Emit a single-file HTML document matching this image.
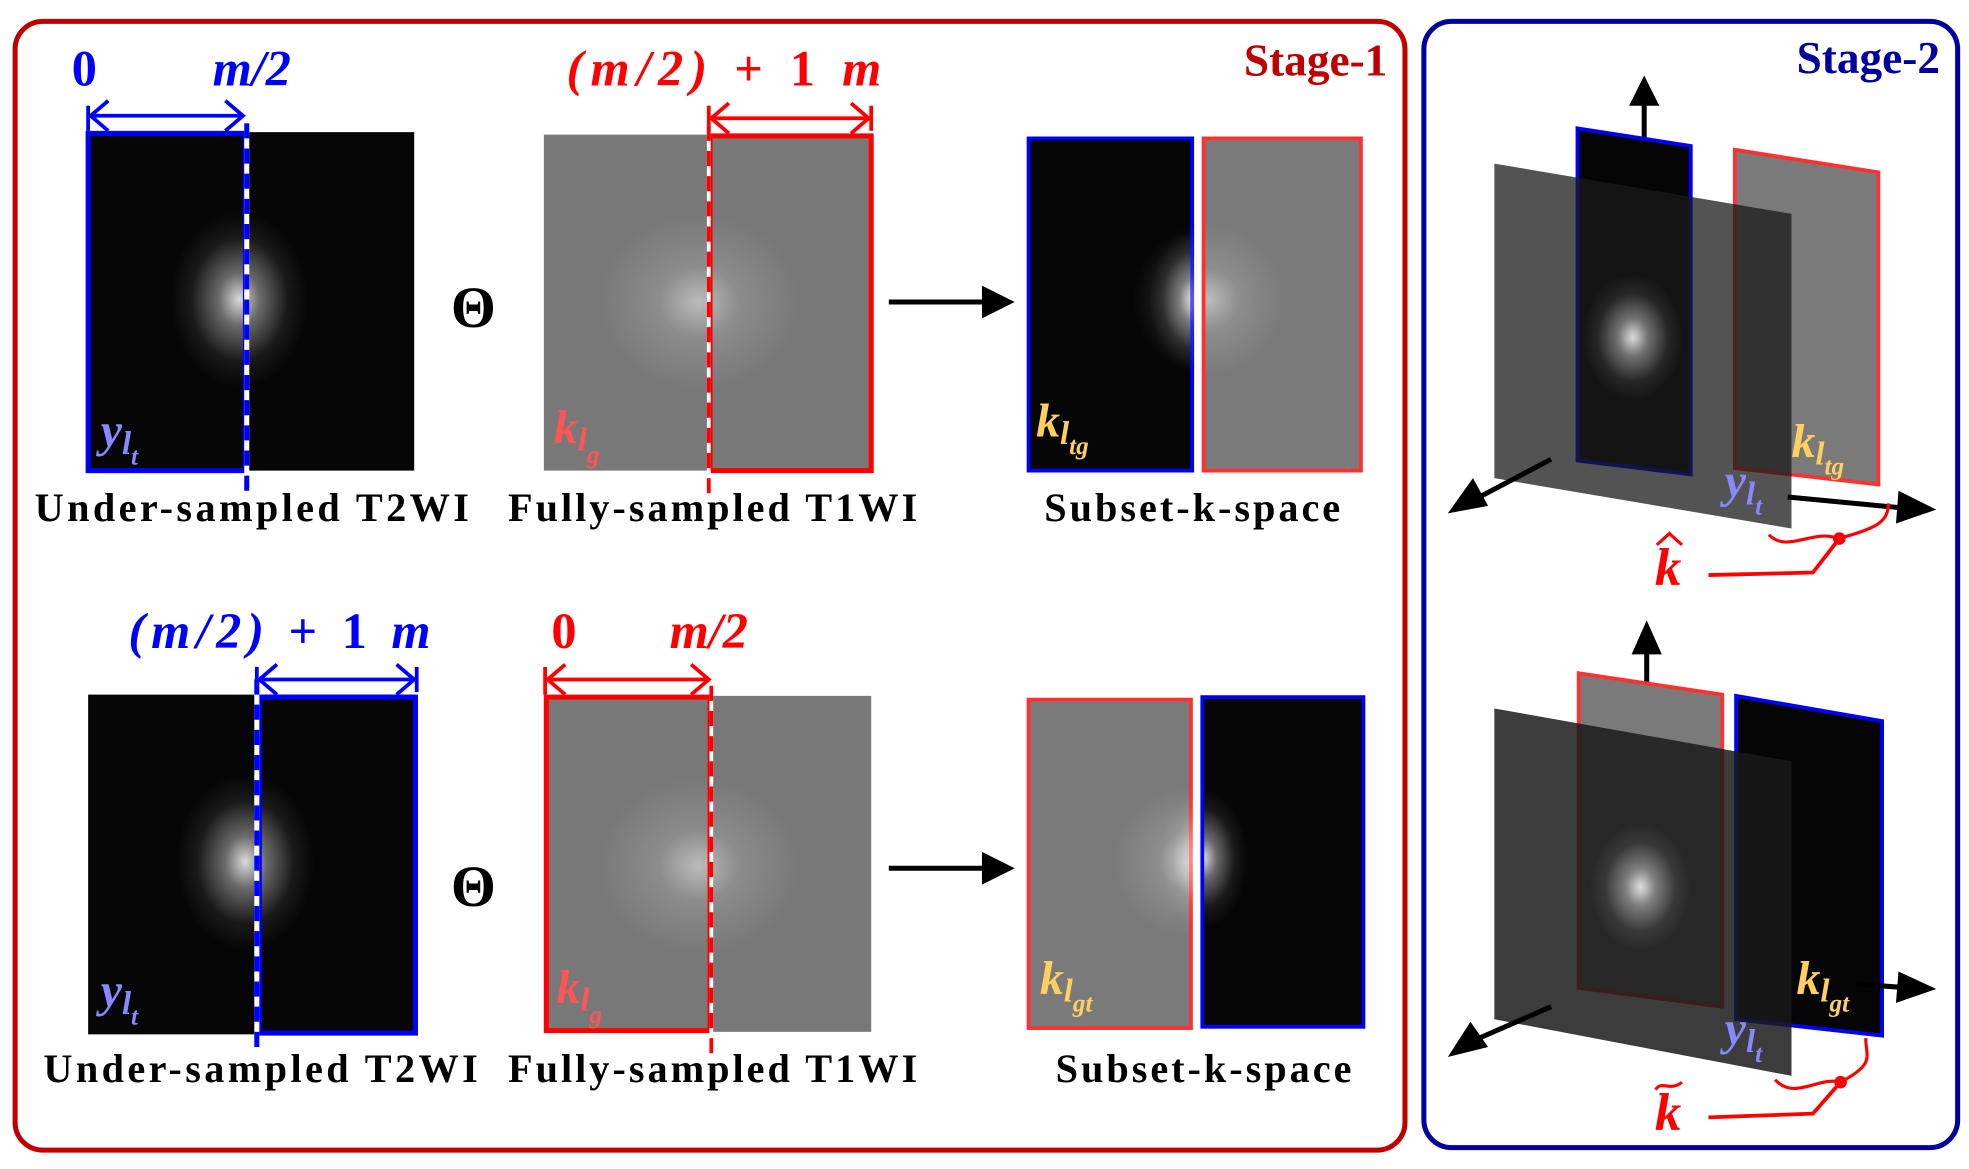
<!DOCTYPE html>
<html><head><meta charset="utf-8"><style>
html,body{margin:0;padding:0;background:#fff;}
svg{display:block;}
text{font-family:"Liberation Serif",serif;font-weight:bold;}
</style></head><body>
<svg width="1969" height="1169" viewBox="0 0 1564 929" preserveAspectRatio="none" xmlns="http://www.w3.org/2000/svg">
<defs>
<radialGradient id="gb" cx="0.5" cy="0.5" r="0.5"><stop offset="0" stop-color="#fff" stop-opacity="0.85"/><stop offset="0.3" stop-color="#fff" stop-opacity="0.4"/><stop offset="0.7" stop-color="#fff" stop-opacity="0.08"/><stop offset="1" stop-color="#fff" stop-opacity="0"/></radialGradient>
<radialGradient id="gg" cx="0.5" cy="0.5" r="0.5"><stop offset="0" stop-color="#fff" stop-opacity="0.5"/><stop offset="0.4" stop-color="#fff" stop-opacity="0.15"/><stop offset="1" stop-color="#fff" stop-opacity="0"/></radialGradient>
</defs>
<rect x="12" y="17" width="1104" height="897" rx="22" fill="none" stroke="#c00000" stroke-width="4"/>
<rect x="1131" y="17" width="424" height="895" rx="22" fill="none" stroke="#0000a0" stroke-width="4"/>
<text x="1102" y="60" font-size="36" fill="#c00000" text-anchor="end">Stage-1</text>
<text x="1541" y="58" font-size="36" fill="#0000a0" text-anchor="end">Stage-2</text>

<!-- Row 1 -->
<g>
<rect x="70" y="105" width="259" height="269" fill="#060606"/>
<ellipse cx="190" cy="238" rx="55" ry="70" fill="url(#gb)"/>
<rect x="70" y="106" width="125" height="268" fill="none" stroke="#0000ff" stroke-width="4"/>
<line x1="196" y1="98" x2="196" y2="392" stroke="#fff" stroke-width="4"/>
<line x1="196" y1="98" x2="196" y2="392" stroke="#0000ff" stroke-width="4" stroke-dasharray="12,8"/>
<text x="80" y="355" font-size="38" fill="#8888ff" font-style="italic">y<tspan font-size="26" dy="6">l</tspan><tspan font-size="20" dy="8">t</tspan></text>
</g>
<line x1="70" y1="84" x2="70" y2="104" stroke="#00f" stroke-width="3"/>
<line x1="72" y1="92" x2="193" y2="92" stroke="#00f" stroke-width="3"/>
<path d="M86,80L72,92L86,104M179,80L193,92L179,104" fill="none" stroke="#00f" stroke-width="3"/>
<text x="67" y="68" font-size="40" fill="#0000ff" text-anchor="middle">0</text>
<text x="200" y="68" font-size="40" fill="#0000ff" text-anchor="middle" font-style="italic">m/2</text>
<text x="376" y="260" font-size="46" fill="#000" text-anchor="middle" font-weight="normal">Θ</text>

<g>
<rect x="432" y="107" width="260" height="267" fill="#787878"/>
<ellipse cx="555" cy="240" rx="80" ry="70" fill="url(#gg)"/>
<rect x="564" y="108" width="128" height="266" fill="none" stroke="#ff0000" stroke-width="4"/>
<line x1="563" y1="100" x2="563" y2="392" stroke="#fff" stroke-width="3"/>
<line x1="563" y1="100" x2="563" y2="392" stroke="#ff0000" stroke-width="3" stroke-dasharray="12,8"/>
<text x="440" y="352" font-size="38" fill="#ff5555" font-style="italic">k<tspan font-size="26" dy="6">l</tspan><tspan font-size="20" dy="10">g</tspan></text>
</g>
<line x1="563" y1="84" x2="563" y2="104" stroke="#f00" stroke-width="3"/>
<line x1="692" y1="84" x2="692" y2="104" stroke="#f00" stroke-width="3"/>
<line x1="565" y1="94" x2="690" y2="94" stroke="#f00" stroke-width="3"/>
<path d="M579,82L565,94L579,106M676,82L690,94L676,106" fill="none" stroke="#f00" stroke-width="3"/>
<text x="450" y="68" font-size="40" fill="#ff0000" font-style="italic" textLength="250">(m/2)<tspan font-style="normal"> + 1  </tspan>m</text>
<line x1="706" y1="240" x2="790" y2="240" stroke="#000" stroke-width="4"/>
<path d="M780,227L806,240L780,253z" fill="#000"/>

<g>
<rect x="816" y="109" width="132" height="266" fill="#060606"/>
<ellipse cx="948" cy="238" rx="35" ry="55" fill="url(#gb)"/>
<rect x="817" y="110" width="130" height="264" fill="none" stroke="#0000ff" stroke-width="3"/>
<rect x="955" y="109" width="127" height="266" fill="#7a7a7a"/>
<ellipse cx="960" cy="238" rx="60" ry="60" fill="url(#gg)"/>
<rect x="956" y="110" width="125" height="264" fill="none" stroke="#ff3030" stroke-width="3"/>
<text x="823" y="347" font-size="38" fill="#ffd060" font-style="italic">k<tspan font-size="26" dy="6">l</tspan><tspan font-size="20" dy="8">tg</tspan></text>
</g>
<text x="200" y="414" font-size="32" text-anchor="middle" textLength="345">Under-sampled T2WI</text>
<text x="566" y="414" font-size="32" text-anchor="middle" textLength="325">Fully-sampled T1WI</text>
<text x="947" y="414" font-size="32" text-anchor="middle" textLength="235">Subset-k-space</text>

<!-- Row 2 -->
<g>
<rect x="70" y="552" width="260" height="270" fill="#060606"/>
<ellipse cx="195" cy="685" rx="55" ry="70" fill="url(#gb)"/>
<rect x="206" y="554" width="124" height="267" fill="none" stroke="#0000ff" stroke-width="4"/>
<line x1="204" y1="540" x2="204" y2="838" stroke="#fff" stroke-width="4"/>
<line x1="204" y1="540" x2="204" y2="838" stroke="#0000ff" stroke-width="4" stroke-dasharray="12,8"/>
<text x="80" y="800" font-size="38" fill="#8888ff" font-style="italic">y<tspan font-size="26" dy="6">l</tspan><tspan font-size="20" dy="8">t</tspan></text>
</g>
<line x1="204" y1="530" x2="204" y2="550" stroke="#00f" stroke-width="3"/>
<line x1="331" y1="530" x2="331" y2="550" stroke="#00f" stroke-width="3"/>
<line x1="206" y1="540" x2="329" y2="540" stroke="#00f" stroke-width="3"/>
<path d="M220,528L206,540L220,552M315,528L329,540L315,552" fill="none" stroke="#00f" stroke-width="3"/>
<text x="102" y="515" font-size="40" fill="#0000ff" font-style="italic" textLength="240">(m/2)<tspan font-style="normal"> + 1 </tspan>m</text>
<text x="376" y="720" font-size="46" text-anchor="middle" font-weight="normal">Θ</text>

<g>
<rect x="432" y="553" width="260" height="267" fill="#787878"/>
<ellipse cx="555" cy="688" rx="80" ry="70" fill="url(#gg)"/>
<rect x="434" y="554" width="130" height="265" fill="none" stroke="#ff0000" stroke-width="4"/>
<line x1="565" y1="545" x2="565" y2="838" stroke="#fff" stroke-width="3"/>
<line x1="565" y1="545" x2="565" y2="838" stroke="#ff0000" stroke-width="3" stroke-dasharray="12,8"/>
<text x="442" y="797" font-size="38" fill="#ff5555" font-style="italic">k<tspan font-size="26" dy="6">l</tspan><tspan font-size="20" dy="10">g</tspan></text>
</g>
<line x1="433" y1="530" x2="433" y2="552" stroke="#f00" stroke-width="3"/>
<line x1="435" y1="540" x2="563" y2="540" stroke="#f00" stroke-width="3"/>
<path d="M449,528L435,540L449,552M549,528L563,540L549,552" fill="none" stroke="#f00" stroke-width="3"/>
<text x="448" y="515" font-size="40" fill="#ff0000" text-anchor="middle">0</text>
<text x="563" y="515" font-size="40" fill="#ff0000" text-anchor="middle" font-style="italic">m/2</text>
<line x1="706" y1="690" x2="790" y2="690" stroke="#000" stroke-width="4"/>
<path d="M780,677L806,690L780,703z" fill="#000"/>

<g>
<rect x="816" y="555" width="131" height="263" fill="#7a7a7a"/>
<ellipse cx="945" cy="685" rx="60" ry="60" fill="url(#gg)"/>
<rect x="817" y="556" width="129" height="261" fill="none" stroke="#ff3030" stroke-width="3"/>
<rect x="954" y="553" width="130" height="264" fill="#060606"/>
<ellipse cx="956" cy="682" rx="35" ry="55" fill="url(#gb)"/>
<rect x="955" y="554" width="128" height="262" fill="none" stroke="#0000ff" stroke-width="3"/>
<text x="826" y="790" font-size="38" fill="#ffd060" font-style="italic">k<tspan font-size="26" dy="6">l</tspan><tspan font-size="20" dy="8">gt</tspan></text>
</g>
<text x="207" y="860" font-size="32" text-anchor="middle" textLength="345">Under-sampled T2WI</text>
<text x="566" y="860" font-size="32" text-anchor="middle" textLength="325">Fully-sampled T1WI</text>
<text x="956" y="860" font-size="32" text-anchor="middle" textLength="235">Subset-k-space</text>

<!-- Stage 2 top -->
<g>
<line x1="1306" y1="110" x2="1306" y2="80" stroke="#000" stroke-width="4"/>
<path d="M1294,84L1306,60L1318,84z" fill="#000"/>
<polygon points="1378,119 1492,137 1492,385 1378,372" fill="#7a7a7a" stroke="#ff3030" stroke-width="3"/>
<polygon points="1253,102 1343,116 1343,377 1253,366" fill="#050505" stroke="#0000ff" stroke-width="3"/>
<polygon points="1187,130 1423,170 1423,420 1187,380" fill="#1a1a1a" fill-opacity="0.75"/>
<ellipse cx="1297" cy="268" rx="40" ry="50" fill="url(#gb)"/>
<line x1="1420" y1="395" x2="1515" y2="404" stroke="#000" stroke-width="4"/>
<path d="M1508,390L1538,405L1506,416z" fill="#000"/>
<line x1="1232" y1="365" x2="1175" y2="395" stroke="#000" stroke-width="4"/>
<path d="M1150,408L1170,380L1182,402z" fill="#000"/>
<text x="1423" y="363" font-size="38" fill="#ffd060" font-style="italic">k<tspan font-size="26" dy="6">l</tspan><tspan font-size="20" dy="8">tg</tspan></text>
<text x="1370" y="395" font-size="38" fill="#8888ff" font-style="italic">y<tspan font-size="26" dy="6">l</tspan><tspan font-size="20" dy="8">t</tspan></text>
<path d="M1405,425C1420,440 1440,420 1460,428C1490,420 1500,415 1500,400" fill="none" stroke="#f00" stroke-width="2.5"/>
<circle cx="1461" cy="428" r="5" fill="#f00"/>
<path d="M1461,428L1440,455L1357,457" fill="none" stroke="#f00" stroke-width="3"/>
<text x="1325" y="465" font-size="42" fill="#f00" font-style="italic" text-anchor="middle">k</text>
<path d="M1316,433L1326,424L1336,433" fill="none" stroke="#f00" stroke-width="2.5"/>
</g>

<!-- Stage 2 bottom -->
<g>
<line x1="1308" y1="545" x2="1308" y2="515" stroke="#000" stroke-width="4"/>
<path d="M1296,520L1308,493L1320,520z" fill="#000"/>
<polygon points="1379,553 1495,573 1495,823 1379,810" fill="#050505" stroke="#0000ff" stroke-width="3"/>
<polygon points="1254,535 1368,552 1368,800 1254,785" fill="#7a7a7a" stroke="#ff3030" stroke-width="3"/>
<polygon points="1187,563 1423,605 1423,855 1187,810" fill="#1a1a1a" fill-opacity="0.85"/>
<ellipse cx="1303" cy="705" rx="40" ry="50" fill="url(#gb)"/>
<line x1="1475" y1="782" x2="1515" y2="785" stroke="#000" stroke-width="4"/>
<path d="M1508,772L1538,786L1506,797z" fill="#000"/>
<line x1="1232" y1="800" x2="1175" y2="825" stroke="#000" stroke-width="4"/>
<path d="M1150,840L1168,812L1182,832z" fill="#000"/>
<text x="1427" y="790" font-size="38" fill="#ffd060" font-style="italic">k<tspan font-size="26" dy="6">l</tspan><tspan font-size="20" dy="8">gt</tspan></text>
<text x="1370" y="830" font-size="38" fill="#8888ff" font-style="italic">y<tspan font-size="26" dy="6">l</tspan><tspan font-size="20" dy="8">t</tspan></text>
<path d="M1410,858C1425,875 1445,855 1462,860C1490,845 1482,840 1482,825" fill="none" stroke="#f00" stroke-width="2.5"/>
<circle cx="1462" cy="860" r="5" fill="#f00"/>
<path d="M1462,860L1440,885L1357,888" fill="none" stroke="#f00" stroke-width="3"/>
<text x="1325" y="898" font-size="42" fill="#f00" font-style="italic" text-anchor="middle">k</text>
<path d="M1315,866C1320,858 1326,868 1336,860" fill="none" stroke="#f00" stroke-width="2.5"/>
</g>
</svg>
</body></html>
